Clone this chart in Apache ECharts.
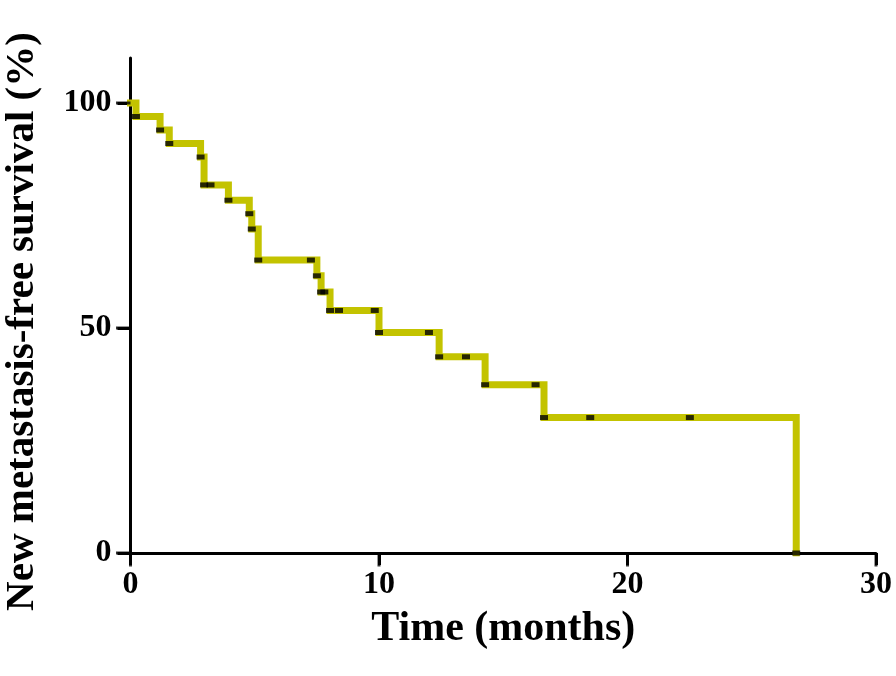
<!DOCTYPE html>
<html>
<head>
<meta charset="utf-8">
<script src="https://cdn.jsdelivr.net/npm/echarts@6/dist/echarts.min.js"></script>
<style>
html,body{margin:0;padding:0;background:#fff;}
#chart{width:896px;height:676px;}
</style>
</head>
<body>
<div id="chart"></div>
<script>
// Kaplan-Meier step points (time in months, survival %)
var times    = [0, 0.22, 1.19, 1.56, 2.82, 2.96, 3.94, 4.78, 4.88, 5.14, 7.50, 7.67, 8.03, 10.00, 12.42, 14.27, 16.64, 26.79];
var survival = [100, 97.0, 94.0, 91.0, 88.0, 81.8, 78.4, 75.4, 72.0, 65.1, 61.6, 58.0, 53.9, 49.0, 43.6, 37.4, 30.1, 0];
// censored observations
var censorTimes    = [3.22, 7.26, 7.80, 8.39, 9.83, 12.01, 13.50, 16.30, 18.50, 22.51];
var censorSurvival = [81.8, 65.1, 58.0, 53.9, 53.9, 49.0, 43.6, 37.4, 30.1, 30.1];
var xTicks = [0, 10, 20, 30];
var yTicks = [0, 50, 100];
var xTitle = 'Time (months)';
var yTitle = 'New metastasis-free survival (%)';

var lineData = times.map(function (t, i) { return [t, survival[i]]; });
var markData = [];
for (var i = 1; i < times.length; i++) markData.push([times[i], survival[i]]);
for (var j = 0; j < censorTimes.length; j++) markData.push([censorTimes[j], censorSurvival[j]]);

var font = 'Liberation Serif';
var X_TICK_LEN = 12, Y_TICK_LEN = 13;

var chart = echarts.init(document.getElementById('chart'), null, {renderer: 'canvas'});
chart.setOption({
  backgroundColor: '#ffffff',
  animation: false,
  grid: {left: 130.5, right: 20, top: 58, bottom: 123, outerBoundsMode: 'none', containLabel: false},
  xAxis: {
    type: 'value',
    min: 0, max: 30, interval: 10,
    name: xTitle,
    nameLocation: 'middle',
    nameGap: 55,
    nameTextStyle: {fontFamily: font, fontWeight: 'bold', fontSize: 42, color: '#000'},
    axisLine: {show: true, lineStyle: {color: '#000', width: 3}},
    axisTick: {show: true, length: X_TICK_LEN, lineStyle: {color: '#000', width: 3}},
    axisLabel: {fontFamily: font, fontWeight: 'bold', fontSize: 32, color: '#000', margin: 16, customValues: xTicks},
    splitLine: {show: false}
  },
  yAxis: {
    type: 'value',
    min: 0, max: 110,
    name: yTitle,
    nameLocation: 'middle',
    nameGap: 88,
    nameTextStyle: {fontFamily: font, fontWeight: 'bold', fontSize: 41, color: '#000', padding: [0, 32, 0, 0]},
    axisLine: {show: true, lineStyle: {color: '#000', width: 3}},
    axisTick: {show: true, length: Y_TICK_LEN, lineStyle: {color: '#000', width: 3}, customValues: yTicks},
    axisLabel: {fontFamily: font, fontWeight: 'bold', fontSize: 32, color: '#000', margin: 19, customValues: yTicks},
    splitLine: {show: false}
  },
  series: [
    {
      type: 'line',
      step: 'end',
      data: lineData,
      showSymbol: false,
      lineStyle: {color: '#c3c300', width: 7, cap: 'square', join: 'miter'},
      itemStyle: {color: '#c3c300'},
      z: 2
    },
    {
      type: 'scatter',
      data: markData,
      symbol: 'rect',
      symbolSize: [8, 5],
      itemStyle: {color: '#000'},
      z: 3
    },
    {
      // x-axis tick marks
      type: 'scatter',
      clip: false,
      data: xTicks.map(function (v) { return [v, 0]; }),
      symbol: 'rect',
      symbolSize: [3, X_TICK_LEN + 1.5],
      symbolOffset: [0, (X_TICK_LEN + 1.5) / 2],
      itemStyle: {color: '#000'},
      z: 5
    },
    {
      // y-axis tick marks
      type: 'scatter',
      clip: false,
      data: yTicks.map(function (v) { return [0, v]; }),
      symbol: 'rect',
      symbolSize: [Y_TICK_LEN + 1.5, 3],
      symbolOffset: [-(Y_TICK_LEN + 1.5) / 2, 0],
      itemStyle: {color: '#000'},
      z: 5
    }
  ]
});
</script>
</body>
</html>
